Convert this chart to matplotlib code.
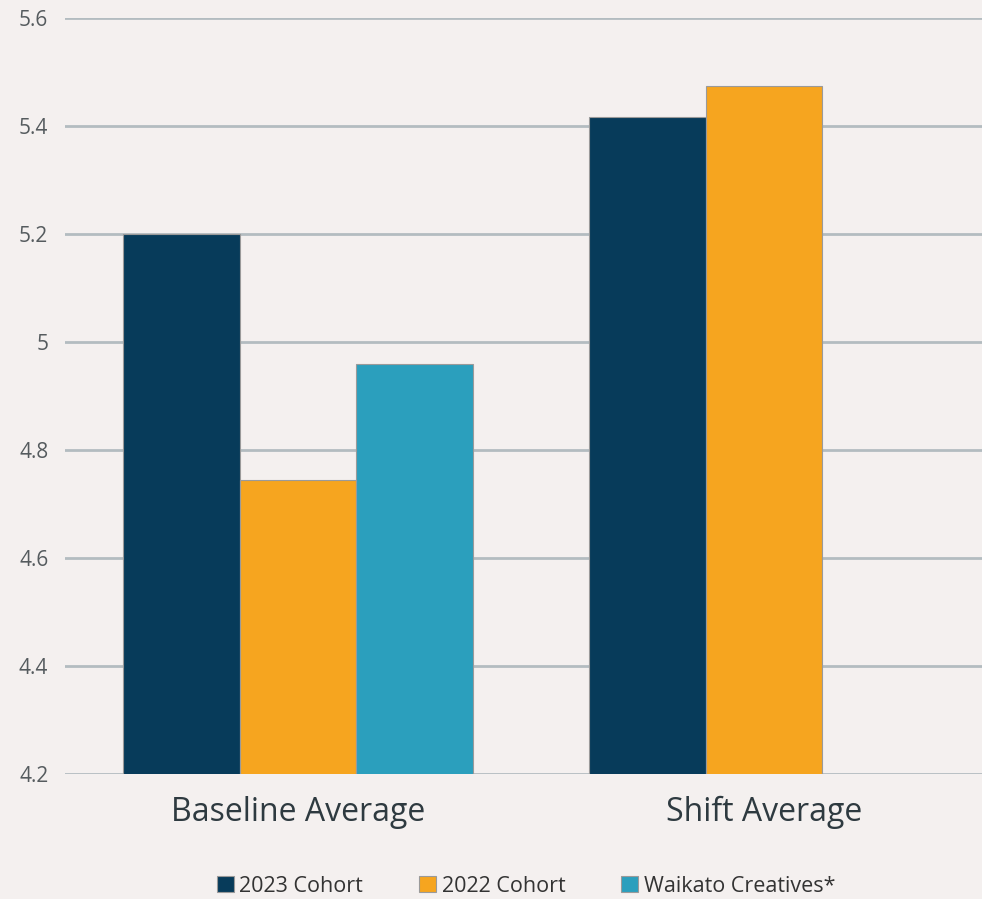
import matplotlib.pyplot as plt
import numpy as np

plt.rcParams['font.family'] = ['Open Sans', 'DejaVu Sans']

categories = ['Baseline Average', 'Shift Average']
cohort2023 = [5.2, 5.417]
cohort2022 = [4.745, 5.474]
waikato = [4.96, None]
series_names = ['2023 Cohort', '2022 Cohort', 'Waikato Creatives*']
yticks = [4.2, 4.4, 4.6, 4.8, 5.0, 5.2, 5.4, 5.6]
ytick_labels = ['4.2', '4.4', '4.6', '4.8', '5', '5.2', '5.4', '5.6']

colors = ['#073b5a', '#f6a51f', '#2b9fbd']
bg = '#f4f0ef'

fig = plt.figure(figsize=(9.82, 8.99), dpi=100, facecolor=bg)
ax = fig.add_axes([65/982, 125/899, 932/982, 756/899], facecolor=bg)

x = np.arange(len(categories))
w = 0.25
ax.bar(x - w, cohort2023, w, color=colors[0], edgecolor='#9a9a9a', linewidth=0.8, label=series_names[0], zorder=3)
ax.bar(x, cohort2022, w, color=colors[1], edgecolor='#9a9a9a', linewidth=0.8, label=series_names[1], zorder=3)
wx = [xi + w for xi, v in zip(x, waikato) if v is not None]
wv = [v for v in waikato if v is not None]
ax.bar(wx, wv, w, color=colors[2], edgecolor='#9a9a9a', linewidth=0.8, label=series_names[2], zorder=3)

ax.set_xlim(-0.5, 1.5)
ax.set_ylim(4.2, 5.6)
ax.set_yticks(yticks)
ax.set_yticklabels(ytick_labels)
ax.set_xticks(x)
ax.set_xticklabels(categories, fontsize=23, color='#2e3a40')
ax.tick_params(axis='y', length=0, pad=12, labelsize=15, labelcolor='#555b5e')
ax.tick_params(axis='x', length=0, pad=16)
ax.grid(axis='y', color='#b3bcc0', linewidth=2, zorder=0)
for s in ax.spines.values():
    s.set_visible(False)

fig.legend(loc='center', bbox_to_anchor=(526/982, 1 - 886/899), ncol=3, frameon=False,
           fontsize=15.5, handlelength=0.8, handleheight=0.8, handletextpad=0.25,
           columnspacing=2.6, labelcolor='#333333')

fig.savefig('out.png', dpi=100, facecolor=bg)
